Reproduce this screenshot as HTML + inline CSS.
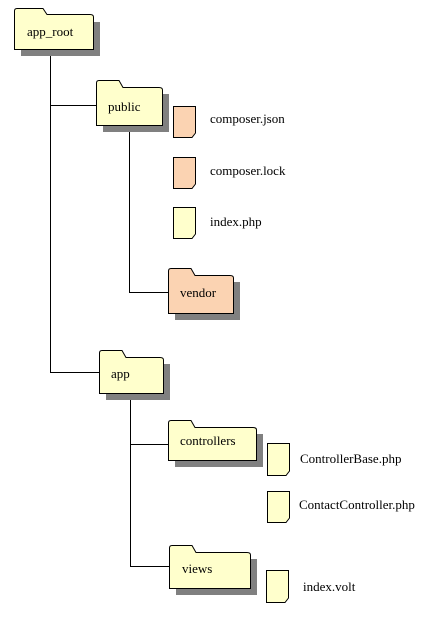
<!DOCTYPE html>
<html><head><meta charset="utf-8"><style>
html,body{margin:0;padding:0;background:#fff;}
svg{display:block;}
text{font-family:"Liberation Serif",serif;font-size:13px;fill:#000;}
</style></head><body>
<svg width="442" height="619" viewBox="0 0 442 619" xmlns="http://www.w3.org/2000/svg">
<g stroke="#000" stroke-width="1" fill="none">
<path d="M50.5 49V372.5H99"/>
<path d="M50.5 105.5H96"/>
<path d="M129.5 125V292.5H168"/>
<path d="M130.5 393V566.5H169"/>
<path d="M130.5 444.5H168"/>
</g>
<g fill="#808080">
<rect x="21" y="22" width="79" height="34"/>
<rect x="103" y="94" width="66" height="38"/>
<rect x="175" y="282" width="65" height="38"/>
<rect x="106" y="364" width="64" height="36"/>
<rect x="175" y="434" width="88" height="33"/>
<rect x="176" y="559" width="81" height="36"/>
</g>
<g stroke="#000" stroke-width="1">
<path fill="#ffffcc" d="M14.5 49.5V11Q14.5 8.5 17 8.5H43L47 14.5H90Q93.5 14.5 93.5 17V49.5Z"/>
<path fill="#ffffcc" d="M96.5 125.5V83Q96.5 80.5 99 80.5H119L123 87.5H159Q162.5 87.5 162.5 90V125.5Z"/>
<path fill="#fbd3b2" d="M168.5 313.5V271Q168.5 268.5 171 268.5H191L195 275.5H230Q233.5 275.5 233.5 278V313.5Z"/>
<path fill="#ffffcc" d="M99.5 393.5V353Q99.5 350.5 102 350.5H122L126 357.5H160Q163.5 357.5 163.5 360V393.5Z"/>
<path fill="#ffffcc" d="M168.5 460.5V423Q168.5 420.5 171 420.5H191L195 427.5H253Q256.5 427.5 256.5 430V460.5Z"/>
<path fill="#ffffcc" d="M169.5 588.5V548Q169.5 545.5 172 545.5H192L196 552.5H247Q250.5 552.5 250.5 555V588.5Z"/>
</g>
<g stroke="#000" stroke-width="1">
<path fill="#fbd3b2" d="M173.5 106.5H195.5V133L192 137.5H173.5Z"/>
<path fill="#fbd3b2" d="M173.5 157.5H195.5V184L192 188.5H173.5Z"/>
<path fill="#ffffcc" d="M173.5 207.5H195.5V234L192 238.5H173.5Z"/>
<path fill="#ffffcc" d="M267.5 443.5H289.5V471L286 475.5H267.5Z"/>
<path fill="#ffffcc" d="M267.5 491.5H289.5V518L286 522.5H267.5Z"/>
<path fill="#ffffcc" d="M266.5 570.5H288.5V598L285 602.5H266.5Z"/>
</g>
<text x="27" y="36">app_root</text>
<text x="108" y="111">public</text>
<text x="180" y="297">vendor</text>
<text x="111" y="378">app</text>
<text x="180" y="445">controllers</text>
<text x="182" y="573">views</text>
<text x="210" y="123">composer.json</text>
<text x="210" y="175">composer.lock</text>
<text x="210" y="226">index.php</text>
<text x="300" y="463">ControllerBase.php</text>
<text x="299" y="509">ContactController.php</text>
<text x="303" y="591">index.volt</text>
</svg>
</body></html>
